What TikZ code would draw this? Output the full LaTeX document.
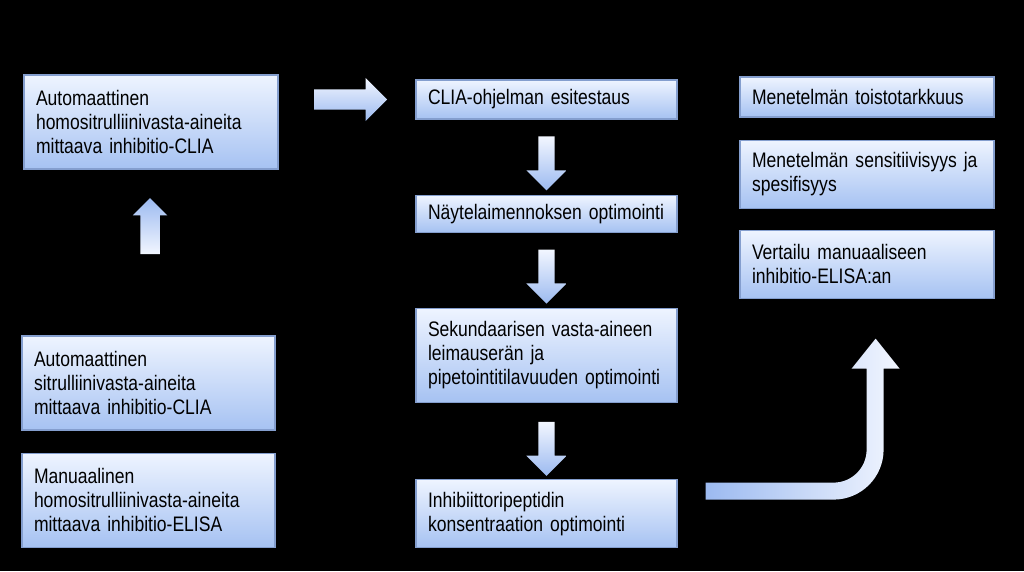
\documentclass[tikz,border=0pt]{standalone}
\usepackage{fontspec}
\setmainfont{Liberation Sans}[FakeStretch=0.835,WordSpace=0.75]
\usetikzlibrary{positioning,calc,shapes.arrows}
\definecolor{boxtop}{RGB}{238,244,255}
\definecolor{boxbot}{RGB}{166,194,242}
\definecolor{boxline}{RGB}{132,158,206}
\definecolor{arrtop}{RGB}{242,246,255}
\definecolor{arrbot}{RGB}{156,186,240}
\hyphenpenalty=10000

\begin{document}
\begin{tikzpicture}[x=1pt,y=-1pt,
        node distance=75pt and 60pt,
        stagebox/.style={rectangle,draw=boxline,line width=1.2pt,top color=boxtop,bottom color=boxbot,
            align=left,font=\fontsize{21}{24}\selectfont,inner xsep=12pt,inner ysep=0pt,text width=#1},
        blockarr/.style={single arrow,single arrow head extend=12pt,inner sep=8pt,
            minimum width=40pt,minimum height=54pt,top color=arrtop,bottom color=arrbot}]
        \useasboundingbox (0,0) rectangle (1024,571);
        \fill[black] (0,0) rectangle (1024,571);
        % left column
        \node[stagebox=230pt,minimum height=94pt] (autohomo) at (151,122) {Automaattinen\\ homositrulliinivasta-aineita\\ mittaava inhibitio-CLIA};
        \node[stagebox=229pt,minimum height=94pt] (autositr) at (148.5,383) {Automaattinen\\ sitrulliinivasta-aineita\\ mittaava inhibitio-CLIA};
        \node[stagebox=229pt,minimum height=94pt,below=22pt of autositr] (manuaal) {Manuaalinen\\ homositrulliinivasta-aineita\\ mittaava inhibitio-ELISA};
        % middle column
        \node[stagebox=237pt,minimum height=39pt] (esitest) at (546.5,99.5) {CLIA-ohjelman esitestaus};
        \node[stagebox=237pt,minimum height=37pt,below=of esitest] (naytelaim) {Näytelaimennoksen optimointi};
        \node[stagebox=237pt,minimum height=94pt,below=of naytelaim] (sekund) {Sekundaarisen vasta-aineen\\ leimauserän ja\\ pipetointitilavuuden optimointi};
        \node[stagebox=237pt,minimum height=68pt,below=76pt of sekund] (inhibpep) {Inhibiittoripeptidin\\ konsentraation optimointi};
        % right column
        \node[stagebox=230pt,minimum height=40pt] (toisto) at (867,97) {Menetelmän toistotarkkuus};
        \node[stagebox=230pt,minimum height=68pt,below=22pt of toisto] (sensit) {Menetelmän sensitiivisyys ja\\ spesifisyys};
        \node[stagebox=230pt,minimum height=68pt,below=21pt of sensit] (vertailu) {Vertailu manuaaliseen\\ inhibitio-ELISA:an};
        % block arrows
        \coordinate (rmid) at ($(autohomo.east)!0.49!(esitest.west)$);
        \node[blockarr,minimum width=34pt,minimum height=56pt,single arrow head extend=7.5pt,inner sep=9.5pt,
            shape border rotate=90,top color=arrbot,bottom color=arrtop] (arrup) at ($(autohomo.south)!0.37!(autositr.north)$) {};
        \node[blockarr,minimum width=43pt,minimum height=73pt,single arrow head extend=11.5pt,inner sep=10pt]
            (arrright) at (rmid |- esitest) {};
        \node[blockarr,shape border rotate=270] (arrdown1) at ($(esitest.south)!0.53!(naytelaim.north)$) {};
        \node[blockarr,shape border rotate=270] (arrdown2) at ($(naytelaim.south)!0.53!(sekund.north)$) {};
        \node[blockarr,shape border rotate=270] (arrdown3) at ($(sekund.south)!0.55!(inhibpep.north)$) {};
        % curved arrow up to the validation boxes
        \path[left color=arrbot,right color=arrtop] ($(inhibpep.east)+(28,-31)$) -- ++(128,0)
            arc[start angle=90,end angle=0,radius=33] -- ++(0,-81) -- ++(-15,0) -- ++(24,-30)
            -- ++(24,30) -- ++(-16,0) -- ++(0,81) arc[start angle=0,end angle=90,radius=50]
            -- ++(-128,0) -- cycle;
    \end{tikzpicture}
\end{document}
